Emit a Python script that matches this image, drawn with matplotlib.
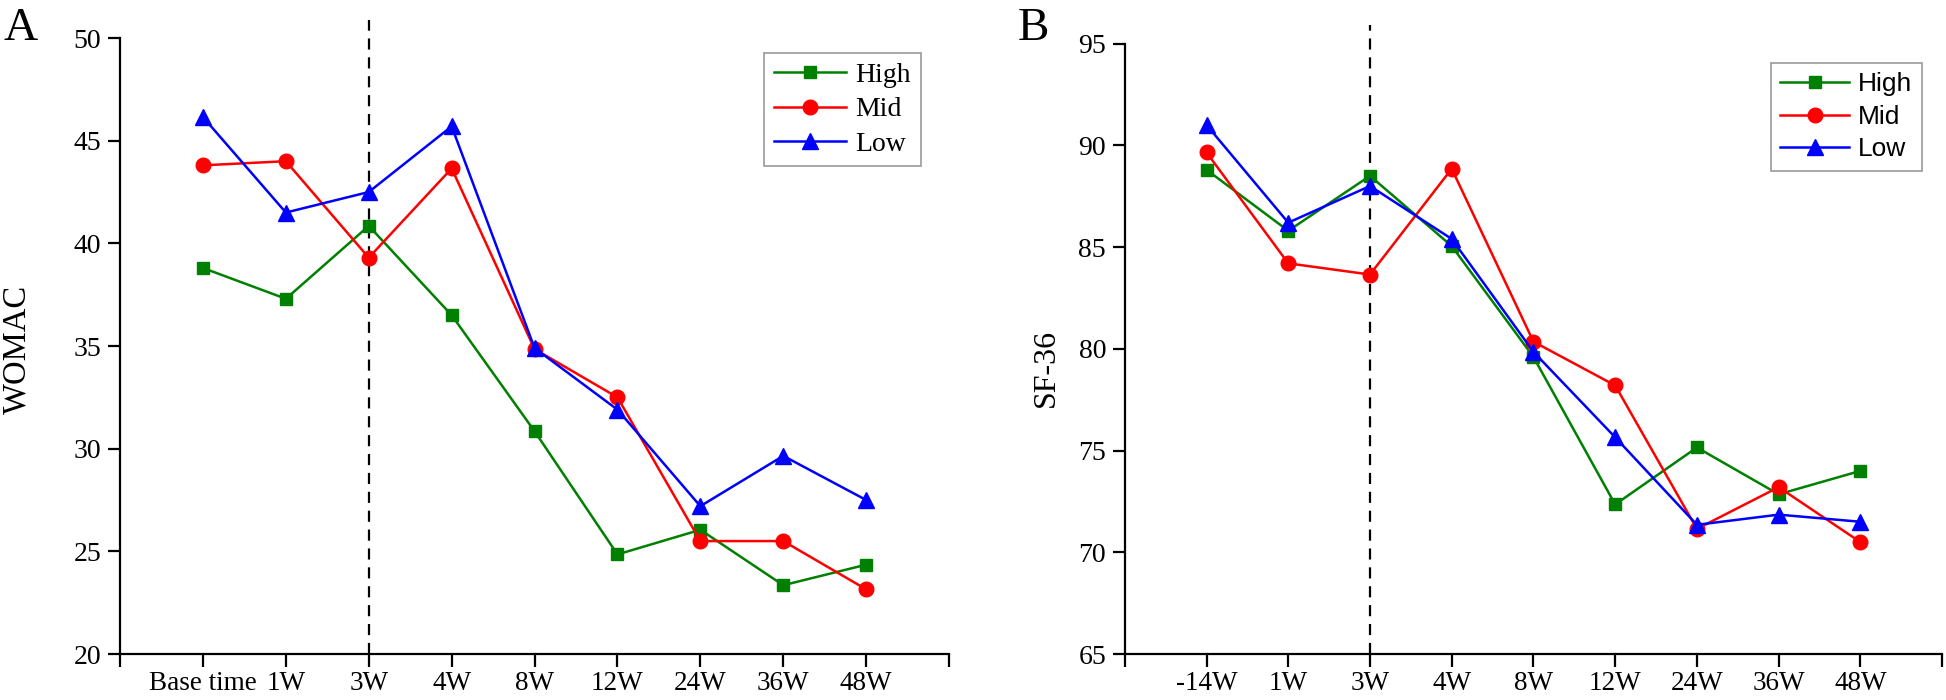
import matplotlib
matplotlib.use("Agg")
import matplotlib.pyplot as plt

# x categories
labels_a = ["Base time", "1W", "3W", "4W", "8W", "12W", "24W", "36W", "48W"]
labels_b = ["-14W", "1W", "3W", "4W", "8W", "12W", "24W", "36W", "48W"]

# WOMAC (panel A)
womac_high = [38.8, 37.3, 40.85, 36.5, 30.85, 24.85, 26.05, 23.35, 24.35]
womac_mid = [43.8, 44.0, 39.3, 43.65, 34.85, 32.5, 25.5, 25.5, 23.15]
womac_low = [46.15, 41.5, 42.5, 45.7, 34.9, 31.9, 27.2, 29.65, 27.5]

# SF-36 (panel B)
sf_high = [88.8, 85.8, 88.5, 85.05, 79.6, 72.35, 75.15, 72.85, 74.0]
sf_mid = [89.65, 84.2, 83.65, 88.85, 80.35, 78.2, 71.15, 73.2, 70.5]
sf_low = [91.0, 86.2, 88.0, 85.4, 79.85, 75.65, 71.35, 71.85, 71.5]

serif = "Liberation Serif"
sans = "Liberation Sans"

fig = plt.figure(figsize=(19.46, 7.0), dpi=100)
axA = fig.add_axes([0.0617, 0.0657, 0.426, 0.88])
axB = fig.add_axes([0.578, 0.0657, 0.42, 0.872])


def draw(ax, high, mid, low, labels, ylim, leg_font, leg_anchor):
    x = list(range(len(labels)))
    ax.plot(x, high, color="#008000", lw=1.8, marker="s", ms=9, label="High")
    ax.plot(x, mid, color="#ff0000", lw=1.8, marker="o", ms=10.5, label="Mid")
    ax.plot(x, low, color="#0000ff", lw=1.8, marker="^", ms=11, label="Low")
    ax.set_ylim(*ylim)
    ax.set_xlim(-1, len(labels))
    # vertical dashed marker at 3W, sticking out above the axis
    ax.plot([2, 2], [ylim[0], ylim[1] + (ylim[1] - ylim[0]) * 0.03], color="black",
            ls=(0, (5, 3.5)), lw=1.6, clip_on=False, zorder=1)
    ax.set_xticks(range(-1, len(labels) + 1))
    ax.set_xticklabels([""] + labels + [""], fontfamily=serif, fontsize=19.5)
    ax.set_yticks(range(ylim[0], ylim[1] + 1, 5))
    ax.set_yticklabels([str(v) for v in range(ylim[0], ylim[1] + 1, 5)],
                       fontfamily=serif, fontsize=20)
    ax.tick_params(axis="x", direction="out", length=9.5, width=1.6, pad=3)
    ax.tick_params(axis="y", direction="out", length=8.5, width=1.6, pad=5)
    for s in ["top", "right"]:
        ax.spines[s].set_visible(False)
    for s in ["left", "bottom"]:
        ax.spines[s].set_linewidth(1.6)
    leg = ax.legend(loc="upper right", bbox_to_anchor=leg_anchor, borderaxespad=0,
                    prop=leg_font, fancybox=False,
                    edgecolor="#808080", handlelength=2.6, labelspacing=0.32,
                    handletextpad=0.35, borderpad=0.35)
    leg.get_frame().set_linewidth(1.2)


draw(axA, womac_high, womac_mid, womac_low, labels_a, (20, 50),
     {"family": serif, "size": 20}, (0.966, 0.976))
draw(axB, sf_high, sf_mid, sf_low, labels_b, (65, 95),
     {"family": sans, "size": 19}, (0.975, 0.968))

fig.text(17 / 1946, 1 - 349 / 700, "WOMAC", rotation=90, ha="center", va="center",
         fontfamily=serif, fontsize=23.5)
fig.text(1046 / 1946, 1 - 368 / 700, "SF-36", rotation=90, ha="center", va="center",
         fontfamily=serif, fontsize=23)

fig.text(0.002, 0.99, "A", fontfamily=serif, fontsize=34, va="top", ha="left")
fig.text(0.523, 0.99, "B", fontfamily=serif, fontsize=34, va="top", ha="left")

fig.savefig("out.png", dpi=100)
